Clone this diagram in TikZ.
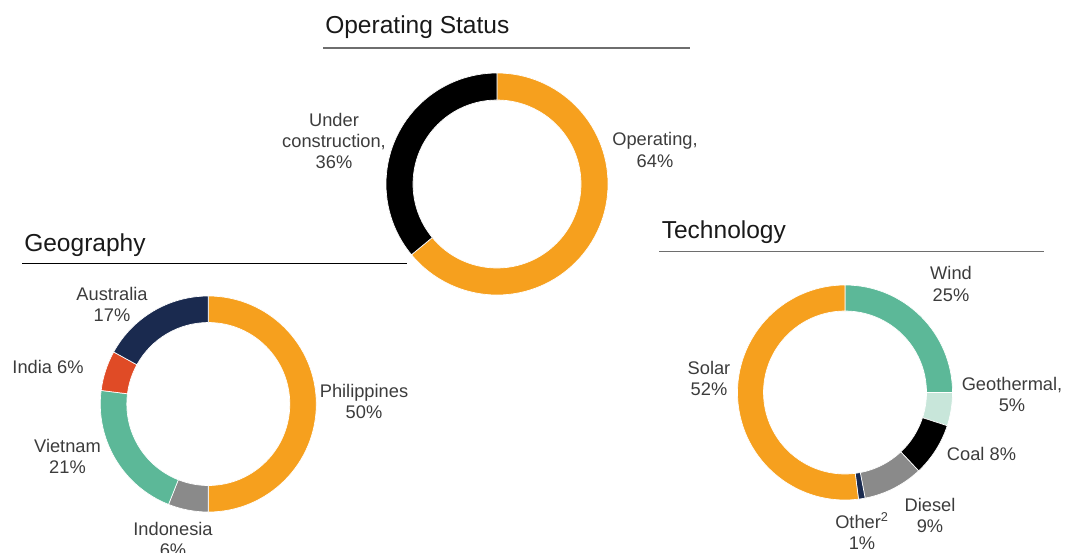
\documentclass[tikz,border=0pt]{standalone}
\usepackage{fontspec}
\setmainfont{Liberation Sans}
\usetikzlibrary{calc}
\definecolor{corange}{HTML}{F6A01E}
\definecolor{cnavy}{HTML}{1A2A4F}
\definecolor{cred}{HTML}{E04B26}
\definecolor{cteal}{HTML}{5CB898}
\definecolor{cgray}{HTML}{8A8A8A}
\definecolor{cmint}{HTML}{C8E6DA}
\definecolor{clabel}{HTML}{3C3C3C}
\definecolor{crule}{HTML}{6E6E6E}
% #1 center, #2 start angle, #3 end angle, #4 inner r, #5 outer R, #6 colour
\newcommand\ringseg[6]{%
  \fill[#6, draw=white, line width=0.5pt] ($(#1)+(#2:#5)$) arc[start angle=#2, end angle=#3, radius=#5]
    -- ($(#1)+(#3:#4)$) arc[start angle=#3, end angle=#2, radius=#4] -- cycle;}
\tikzset{
  lbl/.style={font=\fontsize{13.7pt}{15.8pt}\selectfont, text=clabel, align=center, inner sep=0pt},
  ttl/.style={font=\fontsize{18.4pt}{22pt}\selectfont, text=black!90, anchor=base west, inner sep=0pt},
  rulegray/.style={draw=crule, line width=0.8pt},
  ruleblack/.style={draw=black, line width=1pt}
}
\begin{document}
\begin{tikzpicture}[x=0.75pt, y=0.75pt]
\useasboundingbox (0,0) rectangle (1067,-553);
% ---------- Operating Status ----------
\node[ttl] (tops) at (325,-33.5) {Operating Status};
\coordinate (ops1) at (323,-48);
\coordinate (ops2) at (690,-48);
\draw[rulegray] (ops1) -- (ops2);
\coordinate (cop) at (497,-184);
\ringseg{cop}{90}{-140.4}{84}{111}{corange}
\ringseg{cop}{-140.4}{-270}{84}{111}{black}
\node[lbl] (lop) at (655,-150) {Operating,\\64\%};
\node[lbl] (luc) at (334,-141) {Under\\construction,\\36\%};
% ---------- Geography ----------
\node[ttl] (tgeo) at (24,-251.5) {Geography};
\coordinate (geo1) at (22,-263.5);
\coordinate (geo2) at (407,-263.5);
\draw[ruleblack] (geo1) -- (geo2);
\coordinate (cgeo) at (208.3,-404);
\ringseg{cgeo}{90}{-90}{81.5}{108}{corange}
\ringseg{cgeo}{-90}{-111.6}{81.5}{108}{cgray}
\ringseg{cgeo}{-111.6}{-187.2}{81.5}{108}{cteal}
\ringseg{cgeo}{-187.2}{-208.8}{81.5}{108}{cred}
\ringseg{cgeo}{-208.8}{-270}{81.5}{108}{cnavy}
\node[lbl] (lphi) at (364,-401) {Philippines\\50\%};
\node[lbl] (lind) at (173,-539) {Indonesia\\6\%};
\node[lbl] (lvie) at (67.5,-456) {Vietnam\\21\%};
\node[lbl] (linda) at (48,-367) {India 6\%};
\node[lbl] (laus) at (112,-304) {Australia\\17\%};
% ---------- Technology ----------
\node[ttl] (ttech) at (661.5,-238.5) {Technology};
\coordinate (tec1) at (659,-251.5);
\coordinate (tec2) at (1044,-251.5);
\draw[rulegray] (tec1) -- (tec2);
\coordinate (ctec) at (845,-392.5);
\ringseg{ctec}{90}{0}{81.5}{107.5}{cteal}
\ringseg{ctec}{0}{-18}{81.5}{107.5}{cmint}
\ringseg{ctec}{-18}{-46.8}{81.5}{107.5}{black}
\ringseg{ctec}{-46.8}{-79.2}{81.5}{107.5}{cgray}
\ringseg{ctec}{-79.2}{-82.8}{81.5}{107.5}{cnavy}
\ringseg{ctec}{-82.8}{-270}{81.5}{107.5}{corange}
\node[lbl] (lwind) at (951,-284) {Wind\\25\%};
\node[lbl] (lgeot) at (1012,-394) {Geothermal,\\5\%};
\node[lbl] (lcoal) at (981.5,-453.5) {Coal 8\%};
\node[lbl] (ldies) at (930,-515) {Diesel\\9\%};
\node[lbl] (loth) at (862,-531) {Other\textsuperscript{2}\\1\%};
\node[lbl] (lsol) at (709,-378) {Solar\\52\%};
\end{tikzpicture}
\end{document}
